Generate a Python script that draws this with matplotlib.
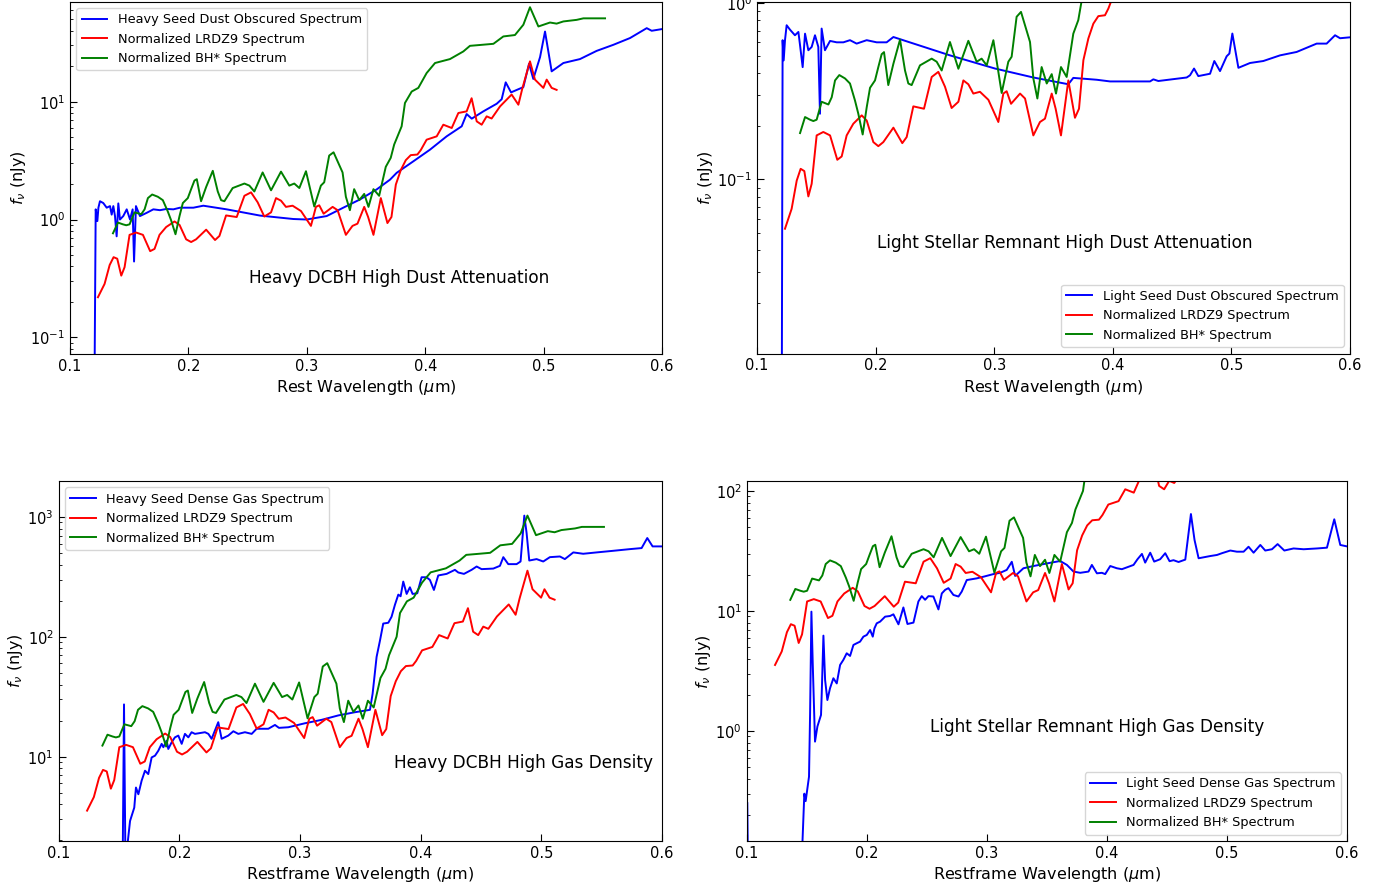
import matplotlib
matplotlib.use("Agg")
import matplotlib.pyplot as plt

# ---------------- data ----------------
# Observed spectra in base units (panel 1 normalisation)
lrdz9_wl = [
    0.1236, 0.1292, 0.1335, 0.1368, 0.1399, 0.1433, 0.1461, 0.1503, 0.1559, 0.1616,
    0.1677, 0.1714, 0.1756, 0.1812, 0.1883, 0.1925, 0.1981, 0.2023, 0.2065, 0.2150,
    0.2225, 0.2262, 0.2318, 0.2408, 0.2473, 0.2529, 0.2585, 0.2641, 0.2698, 0.2740,
    0.2782, 0.2824, 0.2880, 0.2951, 0.3035, 0.3077, 0.3105, 0.3142, 0.3218, 0.3260,
    0.3330, 0.3386, 0.3428, 0.3485, 0.3518, 0.3563, 0.3625, 0.3681, 0.3715, 0.3752,
    0.3794, 0.3836, 0.3878, 0.3934, 0.3963, 0.4012, 0.4097, 0.4153, 0.4224, 0.4280,
    0.4350, 0.4392, 0.4435, 0.4477, 0.4519, 0.4561, 0.4632, 0.4730, 0.4787, 0.4820,
    0.4885, 0.4927, 0.4998, 0.5026, 0.5068, 0.5110]
lrdz9_flux = [
    0.219, 0.284, 0.411, 0.479, 0.465, 0.334, 0.394, 0.741, 0.775, 0.741,
    0.539, 0.563, 0.741, 0.863, 0.963, 0.90, 0.679, 0.644, 0.679, 0.82,
    0.67, 0.725, 1.083, 1.05, 1.59, 1.70, 1.40, 1.06, 1.15, 1.52,
    1.445, 1.28, 1.31, 1.18, 0.883, 1.28, 1.32, 1.12, 1.28, 1.20,
    0.741, 0.883, 0.922, 1.28, 1.05, 0.741, 1.52, 0.933, 1.05, 1.98,
    2.63, 3.19, 3.52, 3.56, 3.89, 4.76, 5.08, 6.38, 5.98, 8.02,
    8.28, 10.7, 6.81, 6.38, 7.51, 7.2, 9.12, 11.5, 9.43, 12.9,
    22.0, 15.4, 13.1, 15.4, 13.1, 12.6]

bhstar_wl = [
    0.1363, 0.1405, 0.1447, 0.1475, 0.1503, 0.1545, 0.1602, 0.1630, 0.1658, 0.1694,
    0.1742, 0.1784, 0.1826, 0.1854, 0.1891, 0.1925, 0.1953, 0.1995, 0.2023, 0.2051,
    0.2071, 0.2107, 0.2150, 0.2206, 0.2248, 0.2276, 0.2304, 0.2374, 0.2473, 0.2515,
    0.2557, 0.2627, 0.2698, 0.2782, 0.2852, 0.2894, 0.2937, 0.2993, 0.3063, 0.3119,
    0.3147, 0.3189, 0.3226, 0.3302, 0.3330, 0.3364, 0.3400, 0.3443, 0.3485, 0.3521,
    0.3563, 0.3611, 0.3667, 0.3709, 0.3738, 0.3801, 0.3829, 0.3886, 0.3942, 0.4012,
    0.4083, 0.4209, 0.4322, 0.4378, 0.4463, 0.4576, 0.4660, 0.4758, 0.4829, 0.4885,
    0.4956, 0.5054, 0.5110, 0.5167, 0.5279, 0.5336, 0.5519]
bhstar_flux = [
    0.764, 0.942, 0.91, 0.894, 0.91, 1.15, 1.11, 1.22, 1.52, 1.63,
    1.56, 1.46, 1.17, 0.985, 0.75, 1.07, 1.38, 1.52, 1.81, 2.14,
    2.20, 1.43, 1.89, 2.59, 1.73, 1.46, 1.43, 1.85, 2.02, 1.94,
    1.73, 2.51, 1.77, 2.55, 1.94, 2.02, 1.85, 2.57, 1.29, 1.94,
    2.07, 3.49, 3.72, 2.51, 1.56, 1.20, 1.81, 1.46, 1.65, 1.28,
    1.81, 1.59, 2.80, 3.34, 4.33, 6.18, 9.75, 12.2, 13.1, 17.5,
    21.3, 23.0, 26.7, 29.8, 30.3, 31.0, 35.8, 36.8, 45.0, 63.4,
    43.5, 47.0, 46.0, 48.0, 49.5, 51.0, 51.0]

# normalisation of the observed spectra in each panel
obs_norm = [1.0, 0.24, 16.2, 16.2]

# Model spectra
heavy_dust_wl = [
    0.1205, 0.1217, 0.1231, 0.1240, 0.1253, 0.1281, 0.1310, 0.1338, 0.1352, 0.1366,
    0.1380, 0.1394, 0.1408, 0.1422, 0.1450, 0.1479, 0.1507, 0.1529, 0.1541, 0.1557,
    0.1591, 0.1648, 0.1704, 0.1760, 0.1816, 0.1873, 0.1929, 0.2042, 0.2126, 0.2323,
    0.2605, 0.2886, 0.2999, 0.3168, 0.3308, 0.3449, 0.3590, 0.3703, 0.3759, 0.3900,
    0.4041, 0.4181, 0.4308, 0.4350, 0.4393, 0.4491, 0.4604, 0.4646, 0.4680, 0.4725,
    0.4829, 0.4877, 0.4913, 0.4970, 0.5012, 0.5068, 0.5167, 0.5307, 0.5448, 0.5589,
    0.5730, 0.5871, 0.5913, 0.5997]
heavy_dust_flux = [
    0.02, 1.22, 0.97, 1.26, 1.43, 1.38, 1.26, 1.30, 1.10, 1.30,
    1.07, 0.72, 1.37, 1.0, 1.07, 1.22, 1.0, 1.22, 0.44, 1.30,
    1.07, 1.14, 1.22, 1.20, 1.23, 1.22, 1.26, 1.26, 1.31, 1.22,
    1.08, 1.01, 1.0, 1.07, 1.26, 1.48, 1.80, 2.18, 2.49, 3.12,
    3.92, 5.08, 6.18, 7.86, 7.18, 8.28, 9.61, 10.5, 14.6, 12.0,
    13.3, 21.0, 15.6, 23.9, 39.4, 18.1, 21.3, 23.0, 27.0, 30.4,
    34.7, 42.1, 40.0, 41.3]

light_dust_wl = [
    0.1208, 0.1216, 0.1225, 0.1236, 0.1250, 0.1278, 0.1320, 0.1349, 0.1363, 0.1385,
    0.1405, 0.1433, 0.1461, 0.1489, 0.1517, 0.1531, 0.1545, 0.1573, 0.1616, 0.1672,
    0.1728, 0.1784, 0.1840, 0.1925, 0.2009, 0.2093, 0.2150, 0.2627, 0.3007, 0.3330,
    0.3625, 0.3667, 0.3864, 0.3977, 0.4145, 0.4314, 0.4342, 0.4384, 0.4623, 0.4651,
    0.4685, 0.4721, 0.4820, 0.4856, 0.4904, 0.4960, 0.4983, 0.5008, 0.5059, 0.5157,
    0.5269, 0.5410, 0.5550, 0.5719, 0.5803, 0.5874, 0.5916, 0.5994]
light_dust_flux = [
    0.003, 0.617, 0.474, 0.617, 0.75, 0.708, 0.658, 0.687, 0.577, 0.434,
    0.672, 0.541, 0.565, 0.658, 0.565, 0.236, 0.718, 0.541, 0.611, 0.60,
    0.60, 0.617, 0.59, 0.617, 0.60, 0.60, 0.643, 0.506, 0.426, 0.379,
    0.347, 0.377, 0.368, 0.36, 0.36, 0.36, 0.37, 0.362, 0.379, 0.39,
    0.426, 0.386, 0.398, 0.47, 0.412, 0.50, 0.518, 0.673, 0.43, 0.458,
    0.47, 0.506, 0.529, 0.59, 0.59, 0.658, 0.633, 0.64]

heavy_gas_wl = [
    0.1530, 0.1542, 0.1555, 0.1572, 0.1592, 0.1627, 0.1641, 0.1661, 0.1688, 0.1716,
    0.1743, 0.1771, 0.1799, 0.1826, 0.1854, 0.1868, 0.1895, 0.1909, 0.1937, 0.1964,
    0.1992, 0.2020, 0.2047, 0.2075, 0.2102, 0.2130, 0.2213, 0.2241, 0.2268, 0.2323,
    0.2351, 0.2406, 0.2448, 0.2489, 0.2544, 0.2600, 0.2641, 0.2738, 0.2793, 0.2826,
    0.2903, 0.3041, 0.3180, 0.3318, 0.3456, 0.3580, 0.3602, 0.3635, 0.3663, 0.3690,
    0.3732, 0.3759, 0.3787, 0.3815, 0.3834, 0.3856, 0.3884, 0.3911, 0.3933, 0.3972,
    0.4008, 0.4049, 0.4077, 0.4110, 0.4146, 0.4215, 0.4284, 0.4312, 0.4359, 0.4422,
    0.4464, 0.4505, 0.4602, 0.4657, 0.4685, 0.4726, 0.4795, 0.4828, 0.4859, 0.4878,
    0.4900, 0.4961, 0.5016, 0.5071, 0.5154, 0.5195, 0.5265, 0.5347, 0.5458, 0.5596,
    0.5734, 0.5831, 0.5878, 0.5922, 0.5996]
heavy_gas_flux = [
    1.0, 27.3, 1.0, 1.9, 2.91, 3.76, 5.53, 4.86, 6.31, 7.64,
    7.16, 9.86, 10.2, 11.2, 12.8, 12.0, 13.6, 11.6, 13.2, 14.5,
    15.0, 12.8, 15.5, 14.5, 16.0, 15.5, 16.0, 15.5, 14.1, 19.4,
    14.1, 15.0, 16.3, 15.5, 16.0, 15.5, 17.1, 17.1, 18.4, 17.4,
    17.6, 19.0, 20.3, 22.1, 23.5, 24.6, 33.5, 68.0, 93.0, 129.0,
    131.0, 147.0, 185.0, 225.0, 218.0, 289.0, 228.0, 259.0, 228.0, 231.0,
    314.0, 314.0, 298.0, 246.0, 325.0, 335.0, 362.0, 344.0, 335.0, 362.0,
    386.0, 367.0, 371.0, 391.0, 462.0, 404.0, 404.0, 425.0, 1026.0, 734.0,
    433.0, 445.0, 425.0, 462.0, 468.0, 445.0, 506.0, 493.0, 506.0, 522.0,
    539.0, 550.0, 667.0, 568.0, 568.0]

light_gas_wl = [
    0.1005, 0.1012, 0.1450, 0.1480, 0.1491, 0.1519, 0.1528, 0.1539, 0.1550, 0.1569,
    0.1589, 0.1619, 0.1625, 0.1639, 0.1653, 0.1672, 0.1694, 0.1722, 0.1750, 0.1778,
    0.1805, 0.1833, 0.1861, 0.1889, 0.1916, 0.1944, 0.1972, 0.2000, 0.2028, 0.2050,
    0.2064, 0.2083, 0.2111, 0.2153, 0.2194, 0.2222, 0.2264, 0.2305, 0.2339, 0.2389,
    0.2430, 0.2458, 0.2486, 0.2514, 0.2555, 0.2597, 0.2625, 0.2653, 0.2680, 0.2722,
    0.2764, 0.2791, 0.2833, 0.2875, 0.2916, 0.2972, 0.3055, 0.3111, 0.3166, 0.3208,
    0.3236, 0.3305, 0.3389, 0.3500, 0.3611, 0.3667, 0.3722, 0.3778, 0.3847, 0.3875,
    0.3917, 0.3958, 0.3986, 0.4028, 0.4083, 0.4125, 0.4167, 0.4222, 0.4255, 0.4292,
    0.4319, 0.4361, 0.4394, 0.4444, 0.4486, 0.4522, 0.4555, 0.4597, 0.4653, 0.4700,
    0.4730, 0.4764, 0.4861, 0.4917, 0.4958, 0.5028, 0.5083, 0.5139, 0.5180, 0.5222,
    0.5278, 0.5319, 0.5375, 0.5422, 0.5478, 0.5555, 0.5639, 0.5750, 0.5833, 0.5894,
    0.5944, 0.6014]
light_gas_flux = [
    0.25, 0.05, 0.05, 0.30, 0.26, 0.416, 1.40, 9.87, 3.66, 0.815,
    1.09, 1.36, 2.06, 6.23, 2.66, 1.81, 2.27, 2.75, 2.49, 3.55,
    3.91, 4.44, 4.22, 5.21, 5.38, 5.55, 6.11, 6.31, 6.94, 6.11,
    7.17, 7.89, 8.15, 8.97, 9.08, 9.38, 7.74, 10.7, 7.79, 8.0,
    12.0, 13.3, 12.4, 13.3, 13.2, 10.3, 14.0, 15.0, 15.5, 13.6,
    13.2, 14.5, 18.1, 18.4, 18.7, 19.3, 20.3, 20.8, 22.0, 25.7,
    19.6, 22.7, 23.7, 24.9, 26.1, 24.2, 21.3, 20.8, 21.3, 24.2,
    20.6, 20.8, 20.3, 23.7, 22.7, 22.3, 23.1, 24.2, 27.0, 29.9,
    25.3, 30.6, 25.8, 27.0, 30.3, 26.0, 26.5, 25.6, 26.8, 64.3,
    39.1, 27.5, 28.7, 29.3, 30.3, 31.9, 31.2, 31.2, 34.3, 30.6,
    35.5, 31.9, 32.7, 36.1, 31.9, 33.2, 32.7, 33.2, 33.7, 58.1,
    35.5, 34.3]

model_labels = ["Heavy Seed Dust Obscured Spectrum", "Light Seed Dust Obscured Spectrum",
                "Heavy Seed Dense Gas Spectrum", "Light Seed Dense Gas Spectrum"]
panel_titles = ["Heavy DCBH High Dust Attenuation", "Light Stellar Remnant High Dust Attenuation",
                "Heavy DCBH High Gas Density", "Light Stellar Remnant High Gas Density"]
xlabels = ["Rest Wavelength ($\\mu$m)", "Rest Wavelength ($\\mu$m)",
           "Restframe Wavelength ($\\mu$m)", "Restframe Wavelength ($\\mu$m)"]
ylims = [(0.0722, 70.6), (0.0103, 1.02), (1.98, 1995.0), (0.121, 120.0)]

models = [(heavy_dust_wl, heavy_dust_flux), (light_dust_wl, light_dust_flux),
          (heavy_gas_wl, heavy_gas_flux), (light_gas_wl, light_gas_flux)]

for wl, fl in models + [(lrdz9_wl, lrdz9_flux), (bhstar_wl, bhstar_flux)]:
    assert len(wl) == len(fl)

# ---------------- layout ----------------
W, H = 1388, 886
fig = plt.figure(figsize=(W / 100, H / 100), dpi=100)

# axes boxes in pixels: left, top, right, bottom
boxes_px = [(70, 1.7, 662, 354), (757, 1.7, 1350, 353.5),
            (58.6, 481, 662, 841), (746.7, 481.5, 1347, 841)]
legend_locs = ["upper left", "lower right", "upper left", "lower right"]
title_pos = [(0.556, 0.215, "center"), (0.519, 0.315, "center"),
             (0.985, 0.217, "right"), (0.5835, 0.317, "center")]

for i in range(4):
    l, t, r, b = boxes_px[i]
    ax = fig.add_axes([l / W, 1 - b / H, (r - l) / W, (b - t) / H])
    wl, fl = models[i]
    ax.plot(wl, fl, color="blue", lw=1.4, label=model_labels[i])
    ax.plot(lrdz9_wl, [v * obs_norm[i] for v in lrdz9_flux], color="red", lw=1.4,
            label="Normalized LRDZ9 Spectrum")
    ax.plot(bhstar_wl, [v * obs_norm[i] for v in bhstar_flux], color="green", lw=1.4,
            label="Normalized BH* Spectrum")
    ax.set_yscale("log")
    ax.set_xlim(0.1, 0.6)
    ax.set_ylim(*ylims[i])
    ax.set_xticks([0.1, 0.2, 0.3, 0.4, 0.5, 0.6])
    ax.set_xticklabels(["0.1", "0.2", "0.3", "0.4", "0.5", "0.6"])
    ax.tick_params(which="both", direction="in", labelsize=10.5, top=False, right=False)
    ax.tick_params(which="major", length=5)
    ax.tick_params(which="minor", length=2.5)
    ax.set_xlabel(xlabels[i], fontsize=11.5, labelpad=3)
    ax.set_ylabel("$f_\\nu$ (nJy)", fontsize=11.5, labelpad=2)
    ax.legend(loc=legend_locs[i], fontsize=9.3)
    tx, ty, ha = title_pos[i]
    ax.text(tx, ty, panel_titles[i], transform=ax.transAxes, fontsize=12.2,
            ha=ha, va="center")

fig.savefig("out.png", dpi=100)
